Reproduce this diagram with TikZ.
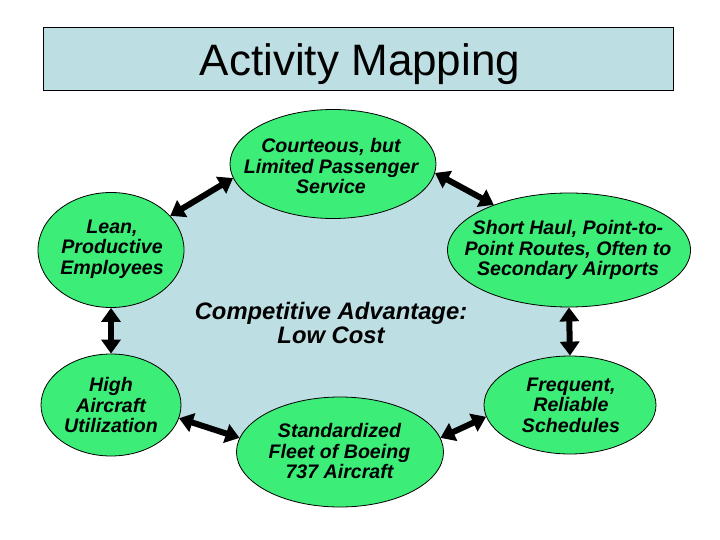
\documentclass[tikz,border=0pt]{standalone}
\usepackage{fontspec}
\setmainfont{Liberation Sans}
\usetikzlibrary{shapes.geometric,arrows.meta,backgrounds}
\definecolor{bgblue}{RGB}{189,222,226}
\definecolor{sgreen}{RGB}{60,238,120}
\tikzset{
  oval/.style={ellipse, draw=black, line width=0.8bp, fill=sgreen, inner sep=0pt},
  ovaltext/.style={align=center, inner sep=0pt, font=\fontsize{19.6bp}{20.5bp}\selectfont\bfseries\itshape},
  link/.style={line width=6bp, {Triangle[length=14bp,width=19bp]}-{Triangle[length=14bp,width=19bp]}},
}
\begin{document}
\begin{tikzpicture}[x=1bp,y=-1bp]
\useasboundingbox (0,0) rectangle (720,540);
% title
\node[draw=black, line width=0.8bp, fill=bgblue, minimum width=630bp, minimum height=63bp, inner sep=0pt] (titlebox) at (358,58.5) {};
\node[anchor=base, inner sep=0pt, font=\fontsize{44bp}{46bp}\selectfont] (title) at (360,76) {Activity Mapping};
% ellipses
\node[oval, minimum width=206bp, minimum height=109bp] (court) at (333,164) {};
\node[oval, minimum width=146bp, minimum height=115bp] (lean) at (111,250) {};
\node[oval, minimum width=243bp, minimum height=114bp] (sh) at (569,250) {};
\node[oval, minimum width=140bp, minimum height=102bp] (high) at (111,405) {};
\node[oval, minimum width=207bp, minimum height=110bp] (std) at (340,452) {};
\node[oval, minimum width=172bp, minimum height=98bp] (freq) at (570,405) {};
% background polygon
\begin{pgfonlayer}{background}
\fill[bgblue] (lean.30) -- (court.188) -- (court.355) -- (sh.149) -- (sh.south) -- (freq.north) -- (freq.188) -- (std.8) -- (std.172) -- (high.349) -- (high.north) -- (lean.south) -- cycle;
\end{pgfonlayer}
% texts
\node[ovaltext] (courtt) at (331,166) {Courteous, but\\Limited Passenger\\Service};
\node[ovaltext] (leant) at (112,249) {Lean,\\Productive\\Employees};
\node[ovaltext] (sht) at (568,250) {Short Haul, Point-to-\\Point Routes, Often to\\Secondary Airports};
\node[ovaltext] (hight) at (111,405) {High\\Aircraft\\Utilization};
\node[ovaltext] (stdt) at (339.5,451) {Standardized\\Fleet of Boeing\\737 Aircraft};
\node[ovaltext] (freqt) at (571,405) {Frequent,\\Reliable\\Schedules};
\node[align=center, inner sep=0pt, font=\fontsize{23.8bp}{24bp}\selectfont\bfseries\itshape] (center) at (331,323) {Competitive Advantage:\\Low Cost};
% arrows
\draw[link] (lean.30) -- (court.188);
\draw[link] (court.355) -- (sh.149);
\draw[link] (sh.south) -- (freq.north);
\draw[link] (lean.south) -- (high.north);
\draw[link] (high.349) -- (std.172);
\draw[link] (std.8) -- (freq.188);
\end{tikzpicture}
\end{document}
